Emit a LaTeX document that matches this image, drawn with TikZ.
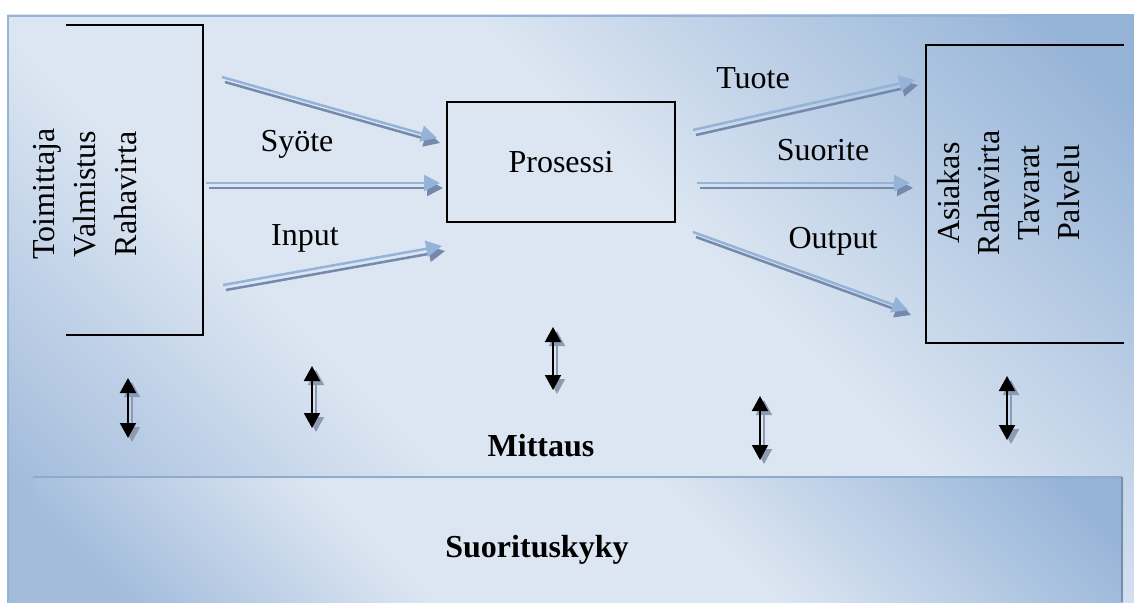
\documentclass[tikz,border=0pt]{standalone}
\usepackage{fontspec}
\setmainfont{Liberation Serif}
\usetikzlibrary{arrows.meta}

\definecolor{panelDark}{HTML}{95B3D7}
\definecolor{panelLow}{HTML}{A3BCDC}
\definecolor{panelLight}{HTML}{DCE6F2}
\definecolor{flowBlue}{HTML}{95B3D7}
\definecolor{flowShade}{HTML}{7489AC}
\definecolor{measShade}{HTML}{8D9BB2}

\pgfdeclareverticalshading{panelshade}{100bp}{color(0bp)=(panelLow); color(20bp)=(panelLow);
  color(38bp)=(panelLight); color(58bp)=(panelLight); color(82bp)=(panelDark); color(100bp)=(panelDark)}

\tikzset{
  panel/.style={shading=panelshade, shading angle=-45},
  boxline/.style={line width=2pt, black},
  label/.style={font=\fontsize{32}{41}\selectfont, anchor=base},
  flow/.style={draw=flowBlue, line width=2.5pt, -{Triangle[length=16pt, width=16pt]}},
  flowshade/.style={draw=flowShade, line width=2.5pt, -{Triangle[length=16pt, width=16pt]},
    transform canvas={xshift=3pt, yshift=-5pt}},
  meas/.style={black, line width=2pt, {Triangle[length=15pt, width=16pt]}-{Triangle[length=15pt, width=16pt]}},
  measshade/.style={draw=measShade, line width=2pt, {Triangle[length=15pt, width=16pt]}-{Triangle[length=15pt, width=16pt]},
    transform canvas={xshift=4pt, yshift=-4pt}}
}

\begin{document}
\begin{tikzpicture}[x=1pt, y=-1pt]
    \useasboundingbox (0,0) rectangle (1134,602);

    % background panel
    \shade[panel] (7,15) rectangle (1134,602);
    \draw[panelDark, line width=2pt] (8,602) -- (8,16) -- (1134,16);

    % bottom bar
    \shade[panel] (33,477) rectangle (1123,602);
    \draw[panelDark!95!black, line width=2.5pt] (33,477) -- (1122,477);
    \draw[panelDark!80!black, line width=1.5pt] (1122,477) -- (1122,602);

    % boxes
    \draw[boxline] (66,25) -- (203,25) -- (203,335) -- (66,335);
    \draw[boxline] (1124,45) -- (926,45) -- (926,343) -- (1124,343);
    \node[draw, line width=1.5pt, minimum width=228pt, minimum height=120pt,
          font=\fontsize{32}{41}\selectfont] (prosessi) at (561,162) {Prosessi};

    \node[rotate=90, align=center, font=\fontsize{32}{41}\selectfont] (toimittaja) at (85,194)
        {Toimittaja\\Valmistus\\Rahavirta};
    \node[rotate=90, align=center, font=\fontsize{32}{40}\selectfont] (asiakas) at (1009,193)
        {Asiakas\\Rahavirta\\Tavarat\\Palvelu};

    % flow labels
    \node[label] (syote) at (297,151) {Syöte};
    \node[label] (input) at (305,245) {Input};
    \node[label] (tuote) at (753,88) {Tuote};
    \node[label] (suorite) at (823,160) {Suorite};
    \node[label] (output) at (833,248) {Output};
    \node[label, font=\fontsize{32}{41}\selectfont\bfseries] (mittaus) at (541,456) {Mittaus};
    \node[label, font=\fontsize{32}{41}\selectfont\bfseries] (suorituskyky) at (537,557) {Suorituskyky};

    % arrow ends
    \coordinate (in1a) at (222,77);   \coordinate (in1b) at (437,138);
    \coordinate (in2a) at (206,183);  \coordinate (in2b) at (440,183);
    \coordinate (in3a) at (223,285);  \coordinate (in3b) at (442,246);
    \coordinate (out1a) at (693,130); \coordinate (out1b) at (915,80);
    \coordinate (out2a) at (697,183); \coordinate (out2b) at (910,183);
    \coordinate (out3a) at (693,232); \coordinate (out3b) at (908,310);

    \draw[flowshade] (in1a) -- (in1b);
    \draw[flow] (in1a) -- (in1b);
    \draw[flowshade] (in2a) -- (in2b);
    \draw[flow] (in2a) -- (in2b);
    \draw[flowshade] (in3a) -- (in3b);
    \draw[flow] (in3a) -- (in3b);
    \draw[flowshade] (out1a) -- (out1b);
    \draw[flow] (out1a) -- (out1b);
    \draw[flowshade] (out2a) -- (out2b);
    \draw[flow] (out2a) -- (out2b);
    \draw[flowshade] (out3a) -- (out3b);
    \draw[flow] (out3a) -- (out3b);

    % measurement arrows
    \coordinate (m1a) at (128,378);  \coordinate (m1b) at (128,438);
    \coordinate (m2a) at (312,366);  \coordinate (m2b) at (312,428);
    \coordinate (m3a) at (553,327);  \coordinate (m3b) at (553,390);
    \coordinate (m4a) at (760,396);  \coordinate (m4b) at (760,460);
    \coordinate (m5a) at (1007,376); \coordinate (m5b) at (1007,440);

    \draw[measshade] (m1a) -- (m1b);
    \draw[meas] (m1a) -- (m1b);
    \draw[measshade] (m2a) -- (m2b);
    \draw[meas] (m2a) -- (m2b);
    \draw[measshade] (m3a) -- (m3b);
    \draw[meas] (m3a) -- (m3b);
    \draw[measshade] (m4a) -- (m4b);
    \draw[meas] (m4a) -- (m4b);
    \draw[measshade] (m5a) -- (m5b);
    \draw[meas] (m5a) -- (m5b);
\end{tikzpicture}
\end{document}
